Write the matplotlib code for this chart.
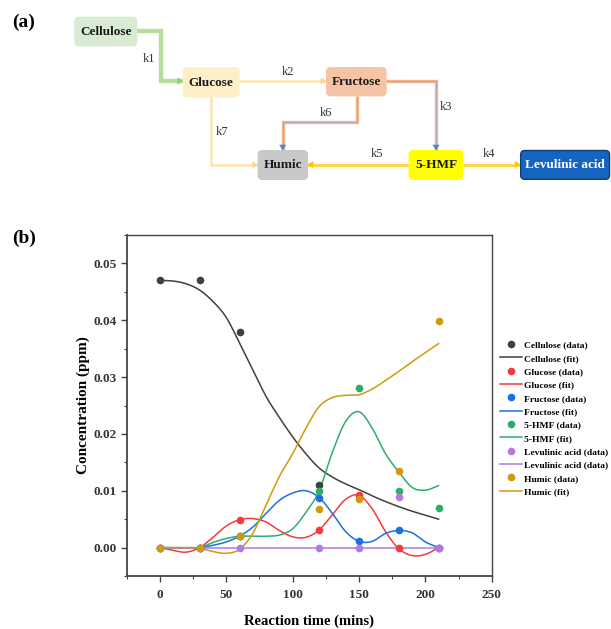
import numpy as np
import matplotlib
matplotlib.use("Agg")
import matplotlib.pyplot as plt
from matplotlib.patches import FancyBboxPatch

plt.rcParams['font.family'] = ['Liberation Serif', 'DejaVu Serif']

# ---------------- data ----------------
time_data = [0, 30, 60, 120, 150, 180, 210]
cellulose_time = [0, 30, 60, 120]
cellulose_data = [0.047, 0.047, 0.038, 0.011]
glucose_data = [0.0, 0.0, 0.0049, 0.0031, 0.0092, 0.0, 0.0]
fructose_data = [0.0, 0.0, 0.002, 0.0088, 0.0011, 0.0031, 0.0]
hmf_data = [0.0, 0.0, 0.002, 0.0099, 0.028, 0.0100, 0.0069]
levulinic_data = [0.0, 0.0, 0.0, 0.0, 0.0, 0.0089, 0.0]
humic_data = [0.0, 0.0, 0.002, 0.0068, 0.0085, 0.0134, 0.0399]

fit_time = [0, 10, 20, 30, 40, 50, 60, 70, 80, 90, 100, 110, 120, 130, 140,
            150, 160, 170, 180, 190, 200, 210]
cellulose_fit = [0.047, 0.0469, 0.0464, 0.0453, 0.0433, 0.0405, 0.036, 0.0313,
                 0.0266, 0.0229, 0.0195, 0.0165, 0.014, 0.0124, 0.0112, 0.0102,
                 0.0091, 0.0081, 0.0072, 0.0064, 0.0057, 0.005]
glucose_fit = [0.0, -0.0005, -0.0008, 0.0, 0.0018, 0.0038, 0.0049, 0.0051,
               0.0045, 0.003, 0.0019, 0.0018, 0.0031, 0.0058, 0.0085, 0.0092,
               0.0068, 0.0028, -0.0002, -0.0014, -0.0012, 0.0]
fructose_fit = [0.0, 0.0, 0.0, 0.0, 0.0004, 0.001, 0.002, 0.0036, 0.006, 0.0083,
                0.0096, 0.01, 0.0088, 0.006, 0.0028, 0.0011, 0.0011, 0.0025,
                0.003, 0.0026, 0.001, 0.0]
hmf_fit = [0.0, -0.0001, -0.0001, 0.0, 0.0009, 0.0016, 0.002, 0.002, 0.002,
           0.0022, 0.0033, 0.0062, 0.0100, 0.0168, 0.0222, 0.0239, 0.021,
           0.0165, 0.0133, 0.0106, 0.0101, 0.0109]
levulinic_fit = [0.0] * 22
humic_fit = [0.0, 0.0, 0.0, -0.0001, -0.0007, -0.001, -0.0003, 0.0025, 0.0075,
             0.0125, 0.0165, 0.021, 0.0248, 0.0264, 0.0268, 0.0269, 0.0279,
             0.0294, 0.031, 0.0327, 0.0343, 0.0359]

series_names = ['Cellulose', 'Glucose', 'Fructose', '5-HMF', 'Levulinic acid', 'Humic']
colors = ['#404040', '#f23b3b', '#1d6fe0', '#2fae6b', '#b07ae0', '#d19a0c']

x_ticks = [0, 50, 100, 150, 200, 250]
y_ticks = [0.00, 0.01, 0.02, 0.03, 0.04, 0.05]


def smooth(x, y, n=16):
    x = np.asarray(x, float)
    y = np.asarray(y, float)
    px = np.concatenate([[2 * x[0] - x[1]], x, [2 * x[-1] - x[-2]]])
    py = np.concatenate([[2 * y[0] - y[1]], y, [2 * y[-1] - y[-2]]])
    xs, ys = [], []
    t = np.linspace(0, 1, n, endpoint=False)
    for i in range(1, len(px) - 2):
        for arr, out in ((px, xs), (py, ys)):
            p0, p1, p2, p3 = arr[i - 1], arr[i], arr[i + 1], arr[i + 2]
            out.extend(0.5 * ((2 * p1) + (-p0 + p2) * t +
                              (2 * p0 - 5 * p1 + 4 * p2 - p3) * t ** 2 +
                              (-p0 + 3 * p1 - 3 * p2 + p3) * t ** 3))
    xs.append(x[-1])
    ys.append(y[-1])
    return np.array(xs), np.array(ys)


W, H = 611, 629
fig = plt.figure(figsize=(W / 100, H / 100), dpi=100)

# ---------------- panel (a): scheme ----------------
dax = fig.add_axes([0, 0, 1, 1])
dax.set_xlim(0, W)
dax.set_ylim(H, 0)
dax.axis('off')

boxes = {
    'Cellulose': (75, 17.3, 136.7, 45.7, '#d9ecd3', '#1a1a1a'),
    'Glucose': (183.3, 67.7, 239, 96.7, '#fdefc8', '#1a1a1a'),
    'Fructose': (326.7, 67.7, 386, 95.7, '#f5c4a6', '#1a1a1a'),
    'Humic': (258.3, 150.7, 307.3, 179.3, '#c9c9c9', '#1a1a1a'),
    '5-HMF': (409.3, 150.7, 462.7, 179.3, '#ffff00', '#1a1a1a'),
    'Levulinic acid': (520.7, 150.5, 609.5, 179.3, '#1565c0', 'white'),
}
for name, (x0, y0, x1, y1, fc, tc) in boxes.items():
    ec = '#0d3f7a' if name == 'Levulinic acid' else fc
    dax.add_patch(FancyBboxPatch((x0, y0), x1 - x0, y1 - y0,
                                 boxstyle='round,pad=0,rounding_size=4',
                                 fc=fc, ec=ec, lw=1.0, zorder=3))
    dax.text((x0 + x1) / 2, (y0 + y1) / 2 + 0.5, name, ha='center', va='center',
             fontsize=9.5, fontweight='bold', color=tc, zorder=4)


def arrow_path(pts, color, lw, head_color=None, inner=None):
    xs = [p[0] for p in pts]
    ys = [p[1] for p in pts]
    dax.plot(xs, ys, color=color, lw=lw, solid_capstyle='butt',
             solid_joinstyle='miter', zorder=2)
    if inner is not None:
        dax.plot(xs, ys, color=inner, lw=0.4, zorder=2.1)
    hc = head_color or color
    (xa, ya), (xb, yb) = pts[-2], pts[-1]
    d = np.array([xb - xa, yb - ya], float)
    d /= np.linalg.norm(d)
    nrm = np.array([-d[1], d[0]])
    tip = np.array([xb, yb])
    base = tip - d * 6
    tri = np.array([tip, base + nrm * 3.5, base - nrm * 3.5])
    dax.fill(tri[:, 0], tri[:, 1], color=hc, zorder=2.5, lw=0)


arrow_path([(136.7, 31), (161, 31), (161, 81), (183.3, 81)], '#b3de9c', 3.2,
           head_color='#8fcf72')
arrow_path([(239, 81), (326.7, 81)], '#fde3ae', 1.8, head_color='#fcd68a')
arrow_path([(210.7, 96.7), (210.7, 165), (258.3, 165)], '#fde3ae', 1.8,
           head_color='#fcd68a')
arrow_path([(386, 81), (436, 81), (436, 150.7)], '#f0b48a', 2.4,
           head_color='#4a8ad8', inner='#86a9d8')
arrow_path([(356.7, 95.7), (356.7, 121.7), (282.7, 121.7), (282.7, 150.7)],
           '#f0b48a', 2.4, head_color='#4a8ad8', inner='#86a9d8')
arrow_path([(409.3, 164.5), (307.3, 164.5)], '#ffd54a', 2.2, head_color='#ffc400')
arrow_path([(462.7, 164.5), (520.7, 164.5)], '#ffd54a', 2.2, head_color='#ffc400')

k_labels = {'k1': (149, 59.5), 'k2': (288, 72), 'k3': (445.7, 107.5),
            'k4': (489, 154), 'k5': (376.7, 154), 'k6': (325.7, 112.5),
            'k7': (221.7, 131.7)}
for k, (x, y) in k_labels.items():
    dax.text(x, y, k, ha='center', va='center', fontsize=9, color='#333333')

dax.text(24, 22, '(a)', ha='center', va='center', fontsize=14, fontweight='bold')
dax.text(24, 238, '(b)', ha='center', va='center', fontsize=14, fontweight='bold')

# ---------------- panel (b): kinetics ----------------
left, right, top, bottom = 126.7, 491.7, 235, 576
ax = fig.add_axes([left / W, 1 - bottom / H, (right - left) / W, (bottom - top) / H])

data_list = [
    (cellulose_time, cellulose_data, cellulose_fit),
    (time_data, glucose_data, glucose_fit),
    (time_data, fructose_data, fructose_fit),
    (time_data, hmf_data, hmf_fit),
    (time_data, levulinic_data, levulinic_fit),
    (time_data, humic_data, humic_fit),
]
fit_labels = ['Cellulose (fit)', 'Glucose (fit)', 'Fructose (fit)', '5-HMF (fit)',
              'Levulinic acid (data)', 'Humic (fit)']
handles, labels = [], []
for i, (name, col, (tt, dd, ff)) in enumerate(zip(series_names, colors, data_list)):
    sx, sy = smooth(fit_time, ff)
    ln, = ax.plot(sx, sy, color=col, lw=1.1, zorder=2 + i * 0.01)
    pts, = ax.plot(tt, dd, 'o', color=col, ms=5.5, mec='none', zorder=3 + i * 0.01)
    handles += [pts, ln]
    labels += [name + ' (data)', fit_labels[i]]

ax.set_xlim(-25, 250)
ax.set_ylim(-0.005, 0.055)
ax.set_xticks(x_ticks)
ax.set_yticks(y_ticks)
ax.set_xticks(np.arange(-25, 251, 25), minor=True)
ax.set_yticks(np.arange(-0.005, 0.0551, 0.005), minor=True)
ax.set_xticklabels([str(v) for v in x_ticks])
ax.set_yticklabels(['%.2f' % v for v in y_ticks])
ax.tick_params(axis='both', which='major', direction='out', length=4, width=1.0,
               color='#444444', labelsize=9.5, labelcolor='#333333', pad=5)
ax.tick_params(axis='y', which='major', pad=3)
ax.tick_params(axis='both', which='minor', direction='out', length=2.5, width=0.8,
               color='#444444')
for lab in ax.get_xticklabels() + ax.get_yticklabels():
    lab.set_fontweight('bold')
for s in ['left', 'bottom']:
    ax.spines[s].set_color('#444444')
    ax.spines[s].set_linewidth(1.3)
for s in ['top', 'right']:
    ax.spines[s].set_color('#444444')
    ax.spines[s].set_linewidth(1.0)

ax.set_xlabel('Reaction time (mins)', fontsize=10.5, fontweight='bold', labelpad=10)
ax.set_ylabel('Concentration (ppm)', fontsize=11, fontweight='bold', labelpad=3)

leg = fig.legend(handles, labels, loc='upper left',
                 bbox_to_anchor=(496 / W, 1 - 337 / H),
                 frameon=False, handlelength=2.3,
                 handletextpad=0.25, labelspacing=0.5, borderaxespad=0,
                 prop={'weight': 'bold', 'size': 6.8})

fig.savefig('out.png', dpi=100)
